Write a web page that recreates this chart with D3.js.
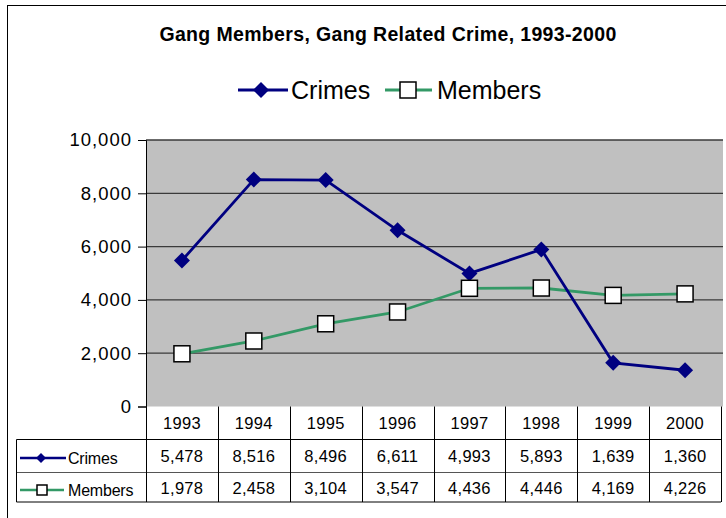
<!DOCTYPE html>
<html><head><meta charset="utf-8">
<script src="https://cdn.jsdelivr.net/npm/d3@7"></script>
<style>body{margin:0;background:#fff;} svg{display:block;font-family:"Liberation Sans",Arial,sans-serif;}</style>
</head><body>
<svg id="c" width="726" height="518"></svg>
<script>
const years = ["1993","1994","1995","1996","1997","1998","1999","2000"];
const crimes = [5478, 8516, 8496, 6611, 4993, 5893, 1639, 1360];
const members = [1978, 2458, 3104, 3547, 4436, 4446, 4169, 4226];
const yTicks = [0, 2000, 4000, 6000, 8000, 10000];
const title = "Gang Members, Gang Related Crime, 1993-2000";
const seriesNames = ["Crimes", "Members"];

const svg = d3.select("#c");
const L = 146, R = 721, T = 140, B = 406.5;
const x = d3.scaleBand().domain(years).range([L, R]);
const cx = d => x(d) + x.bandwidth() / 2;
const y = d3.scaleLinear().domain([0, 10000]).range([B, T]);
const fmt = d3.format(",");
const crimeColor = "#000080", memColor = "#339966";

// outer border
svg.append("rect").attr("x", 7.5).attr("y", 5.5).attr("width", 760).attr("height", 560)
  .attr("fill", "#fff").attr("stroke", "#000").attr("stroke-width", 1);

// title
svg.append("text").attr("x", 388).attr("y", 41).attr("text-anchor", "middle")
  .attr("font-weight", "bold").attr("font-size", 19.5).attr("letter-spacing", 0.35).text(title);

// plot area
svg.append("rect").attr("x", L).attr("y", T).attr("width", R - L + 2).attr("height", B - T)
  .attr("fill", "#c0c0c0");

// gridlines
svg.append("g").selectAll("line").data(yTicks.filter(v => v > 0)).join("line")
  .attr("x1", L).attr("x2", R + 2).attr("y1", d => y(d)).attr("y2", d => y(d))
  .attr("stroke", "#3a3a3a").attr("stroke-width", 1.3);

// y axis
const yAxis = d3.axisLeft(y).tickValues(yTicks).tickFormat(fmt).tickSize(8).tickPadding(6);
const ga = svg.append("g").attr("transform", `translate(${L},0)`).call(yAxis);
ga.select(".domain").attr("stroke", "#000").attr("stroke-width", 1);
ga.selectAll(".tick line").attr("stroke", "#000");
ga.selectAll("text").attr("font-size", 18.5).attr("letter-spacing", 1).attr("fill", "#000")
  .attr("font-family", "Liberation Sans, Arial, sans-serif");

// lines
const line = d3.line().x((d, i) => cx(years[i])).y(d => y(d));
svg.append("path").datum(members).attr("d", line).attr("fill", "none")
  .attr("stroke", memColor).attr("stroke-width", 2.8);
svg.append("path").datum(crimes).attr("d", line).attr("fill", "none")
  .attr("stroke", crimeColor).attr("stroke-width", 2.8);

const diamond = s => `M0,${-s}L${s},0L0,${s}L${-s},0Z`;
svg.append("g").selectAll("path").data(crimes).join("path")
  .attr("transform", (d, i) => `translate(${cx(years[i])},${y(d)})`)
  .attr("d", diamond(8)).attr("fill", crimeColor);
svg.append("g").selectAll("rect").data(members).join("rect")
  .attr("x", (d, i) => cx(years[i]) - 8).attr("y", d => y(d) - 8)
  .attr("width", 16).attr("height", 16)
  .attr("fill", "#fff").attr("stroke", "#000").attr("stroke-width", 1.5);

// legend
const lg = svg.append("g");
lg.append("line").attr("x1", 238).attr("x2", 288).attr("y1", 90).attr("y2", 90)
  .attr("stroke", crimeColor).attr("stroke-width", 2.8);
lg.append("path").attr("transform", "translate(261,90)").attr("d", diamond(8)).attr("fill", crimeColor);
lg.append("text").attr("x", 291).attr("y", 99).attr("font-size", 25).text(seriesNames[0]);
lg.append("line").attr("x1", 385).attr("x2", 432).attr("y1", 90).attr("y2", 90)
  .attr("stroke", memColor).attr("stroke-width", 2.8);
lg.append("rect").attr("x", 400).attr("y", 82).attr("width", 16).attr("height", 16)
  .attr("fill", "#fff").attr("stroke", "#000").attr("stroke-width", 1.5);
lg.append("text").attr("x", 437).attr("y", 99).attr("font-size", 25).text(seriesNames[1]);

// data table
const rowY = [B, 439.5, 472.5, 502];
const TL = 16.5;
const tg = svg.append("g").attr("stroke", "#000").attr("stroke-width", 1);
tg.append("line").attr("x1", TL).attr("x2", R).attr("y1", rowY[1]).attr("y2", rowY[1]);
tg.append("line").attr("x1", TL).attr("x2", R).attr("y1", rowY[2]).attr("y2", rowY[2]).attr("stroke", "#555");
tg.append("line").attr("x1", TL).attr("x2", R).attr("y1", rowY[3]).attr("y2", rowY[3]);
tg.append("line").attr("x1", TL).attr("x2", TL).attr("y1", rowY[1]).attr("y2", rowY[3]);
const colEdges = years.map(d => x(d)).concat([R]);
tg.selectAll(".v").data(colEdges).join("line")
  .attr("x1", d => Math.round(d) + 0.5).attr("x2", d => Math.round(d) + 0.5)
  .attr("y1", rowY[0]).attr("y2", rowY[3]);

const tt = svg.append("g").attr("font-size", 16.5).attr("letter-spacing", 0.3).attr("text-anchor", "middle");
tt.selectAll(".yr").data(years).join("text").attr("x", d => cx(d)).attr("y", 429).text(d => d);
tt.selectAll(".cr").data(crimes).join("text").attr("x", (d, i) => cx(years[i])).attr("y", 462).text(d => fmt(d));
tt.selectAll(".mb").data(members).join("text").attr("x", (d, i) => cx(years[i])).attr("y", 494).text(d => fmt(d));

// table legend keys
const kg = svg.append("g");
kg.append("line").attr("x1", 20).attr("x2", 66).attr("y1", 458).attr("y2", 458)
  .attr("stroke", crimeColor).attr("stroke-width", 2.5);
kg.append("path").attr("transform", "translate(41,458)").attr("d", diamond(5)).attr("fill", crimeColor);
kg.append("text").attr("x", 68).attr("y", 464).attr("font-size", 16).attr("letter-spacing", -0.2).text(seriesNames[0]);
kg.append("line").attr("x1", 20).attr("x2", 64).attr("y1", 490).attr("y2", 490)
  .attr("stroke", memColor).attr("stroke-width", 2.5);
kg.append("rect").attr("x", 37).attr("y", 485).attr("width", 10).attr("height", 10)
  .attr("fill", "#fff").attr("stroke", "#000").attr("stroke-width", 1.5);
kg.append("text").attr("x", 68).attr("y", 496).attr("font-size", 16).attr("letter-spacing", -0.2).text(seriesNames[1]);
</script>
</body></html>
